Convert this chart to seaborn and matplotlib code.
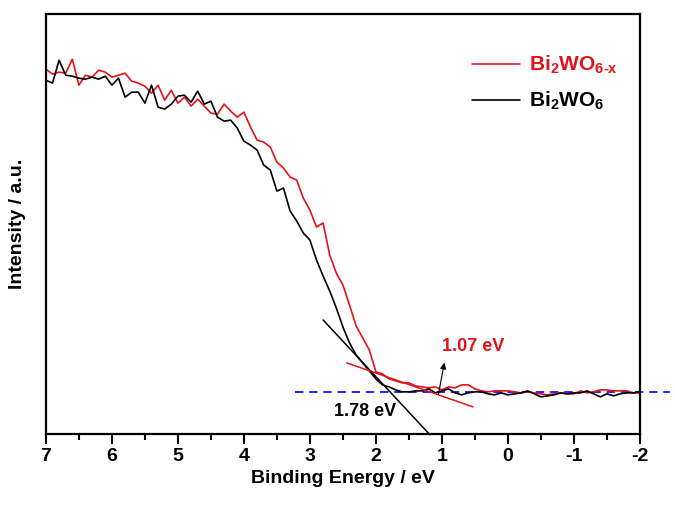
import numpy as np
import matplotlib
matplotlib.use('Agg')
import matplotlib.pyplot as plt
import pandas as pd
import seaborn as sns
from matplotlib.ticker import MultipleLocator

# binding energy grid, 7 eV down to -2 eV in 0.1 eV steps
energy = np.round(np.arange(70, -21, -1) / 10, 1)

# intensities (arbitrary units)
red_int = [365, 360, 362, 361, 375, 349, 359, 357, 364, 362,
           357, 359, 361, 353, 351, 348, 341, 349, 334, 344,
           331, 337, 328, 335, 328, 321, 320, 330, 323, 317,
           322, 307, 294, 292, 287, 272, 266, 257, 254, 236,
           224, 207, 211, 179, 161, 149, 129, 108, 96, 84,
           62, 60, 55, 53, 51, 51, 48, 47, 46, 47,
           44, 47, 46, 49, 49, 45, 43, 42, 43, 43,
           43, 42, 41, 42, 41, 40, 39, 40, 41, 40,
           40, 43, 41, 42, 44, 44, 43, 43, 43, 41,
           41]
black_int = [354, 351, 374, 359, 358, 356, 355, 357, 355, 358,
             349, 356, 337, 342, 342, 331, 349, 327, 325, 330,
             338, 339, 332, 343, 330, 333, 317, 313, 314, 306,
             293, 289, 284, 269, 264, 243, 246, 223, 213, 201,
             194, 174, 158, 143, 126, 107, 91, 79, 71, 63,
             55, 49, 47, 44, 42, 42, 43, 43, 45, 41,
             43, 45, 41, 39, 41, 42, 42, 40, 39, 41,
             39, 40, 41, 43, 40, 37, 38, 39, 41, 40,
             41, 41, 43, 40, 37, 40, 38, 40, 41, 41,
             42]

labels = [r'$\mathbf{Bi_2WO_{6\text{-}x}}$', r'$\mathbf{Bi_2WO_6}$']
colors = ['#e3121a', '#000000']

baseline = 42
tan_black_e = [2.80, 1.18]
tan_black_i = [114, -1]
tan_red_e = [2.44, 0.53]
tan_red_i = [71, 27]
xticks = [7, 6, 5, 4, 3, 2, 1, 0, -1, -2]

sns.set_theme(style='ticks')
plt.rcParams['font.family'] = ['Liberation Sans', 'DejaVu Sans']
plt.rcParams['font.weight'] = 'bold'
plt.rcParams['mathtext.fontset'] = 'custom'
plt.rcParams['mathtext.bf'] = 'Liberation Sans:bold'
plt.rcParams['mathtext.rm'] = 'Liberation Sans:bold'
plt.rcParams['mathtext.default'] = 'bf'
plt.rcParams['text.color'] = 'black'
plt.rcParams['axes.labelcolor'] = 'black'
plt.rcParams['xtick.color'] = 'black'
plt.rcParams['xtick.labelcolor'] = 'black'

df = pd.concat([
    pd.DataFrame({'energy': energy, 'intensity': red_int, 'sample': labels[0]}),
    pd.DataFrame({'energy': energy, 'intensity': black_int, 'sample': labels[1]}),
])

fig = plt.figure(figsize=(6.75, 5.08), dpi=100)
ax = fig.add_axes([0.068, 0.146, 0.88, 0.826])

sns.lineplot(data=df, x='energy', y='intensity', hue='sample',
             hue_order=labels, palette=colors, linewidth=1.2, ax=ax, sort=False)

# baseline and tangent lines
ax.plot([3.23, -2.45], [baseline, baseline], ls=(0, (5, 3.5)), color='#0000ff',
        lw=1.2, clip_on=False, zorder=1)
ax.plot(tan_black_e, tan_black_i, color='black', lw=1.1, clip_on=False)
ax.plot(tan_red_e, tan_red_i, color=colors[0], lw=1.1)

ax.annotate('', xy=(0.955, 74), xytext=(1.06, 37),
            arrowprops=dict(arrowstyle='-|>', color='black', lw=0.8,
                            mutation_scale=9))
ax.text(0.53, 87, '1.07 eV', color=colors[0], fontsize=13, fontweight='bold',
        ha='center', va='center')
ax.text(2.17, 22, '1.78 eV', color='black', fontsize=13, fontweight='bold',
        ha='center', va='center')

ax.set_xlim(7, -2)
ax.set_ylim(0, 420)
ax.set_xticks(xticks)
ax.set_xticklabels([str(t) for t in xticks])
ax.xaxis.set_minor_locator(MultipleLocator(0.5))
ax.set_yticks([])
ax.tick_params(axis='x', which='major', direction='out', length=7, width=1.5,
               labelsize=14, pad=3)
ax.tick_params(axis='x', which='minor', direction='out', length=4, width=1.5)
for s in ax.spines.values():
    s.set_linewidth(1.6)
    s.set_color('black')

ax.set_xlabel('Binding Energy / eV', fontsize=14, fontweight='bold', labelpad=4)
ax.set_ylabel('Intensity / a.u.', fontsize=14, fontweight='bold', labelpad=14)

leg = ax.legend(loc='upper right', bbox_to_anchor=(0.995, 0.95), frameon=False,
                fontsize=15, handlelength=2.3, labelspacing=0.65, handletextpad=0.45)
for t, c in zip(leg.get_texts(), colors):
    t.set_color(c)

fig.savefig('out.png', dpi=100)
